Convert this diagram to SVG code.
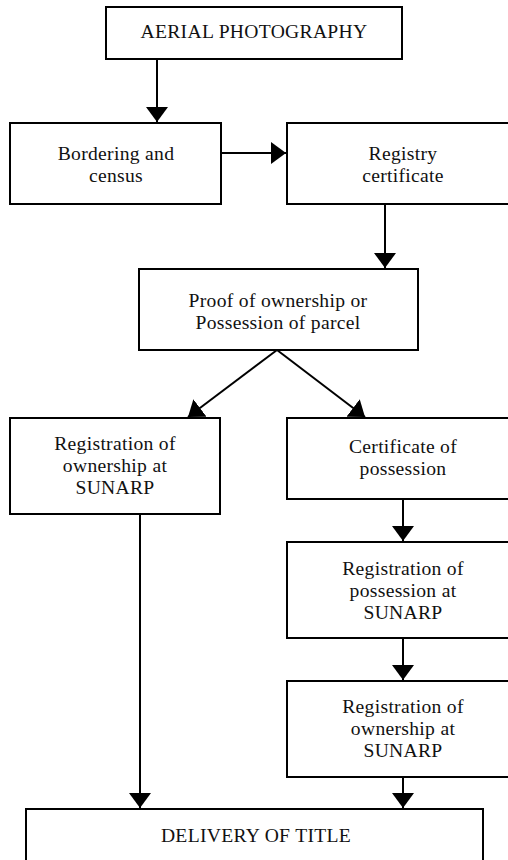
<svg xmlns="http://www.w3.org/2000/svg" width="508" height="860" viewBox="0 0 508 860">
  <style>
    .box { fill: #ffffff; stroke: #000000; stroke-width: 2; }
    .lbl { font-family: 'Liberation Serif', 'DejaVu Serif', serif; font-size: 19.6px; fill: #111111; text-anchor: middle; letter-spacing: 0.3px; }
    .conn { stroke: #000000; stroke-width: 2; fill: none; marker-end: url(#arrow); }
  </style>
  <defs>
    <marker id="arrow" viewBox="0 0 15 22" refX="15" refY="11" markerWidth="15" markerHeight="22" markerUnits="userSpaceOnUse" orient="auto">
      <path d="M0,0 L15,11 L0,22 z" fill="#000000"/>
    </marker>
  </defs>
  <rect width="508" height="860" fill="#ffffff"/>

  <g id="connectors">
    <line class="conn" x1="157" y1="59" x2="157" y2="122"/>
    <line class="conn" x1="221" y1="153" x2="286" y2="153"/>
    <line class="conn" x1="385" y1="204" x2="385" y2="268"/>
    <line class="conn" x1="277" y1="350" x2="188" y2="417"/>
    <line class="conn" x1="277" y1="350" x2="365" y2="417"/>
    <line class="conn" x1="403" y1="499" x2="403" y2="541"/>
    <line class="conn" x1="403" y1="638" x2="403" y2="680"/>
    <line class="conn" x1="403" y1="777" x2="403" y2="808"/>
    <line class="conn" x1="140" y1="514" x2="140" y2="808"/>
  </g>

  <g id="aerial">
    <rect class="box" x="106" y="7" width="296" height="52"/>
    <text class="lbl" x="254" y="38">AERIAL PHOTOGRAPHY</text>
  </g>
  <g id="bordering">
    <rect class="box" x="10" y="123" width="211" height="81"/>
    <text class="lbl" x="116" y="160">Bordering and</text>
    <text class="lbl" x="116" y="182">census</text>
  </g>
  <g id="registry">
    <rect class="box" x="287" y="123" width="233" height="81"/>
    <text class="lbl" x="403" y="160">Registry</text>
    <text class="lbl" x="403" y="182">certificate</text>
  </g>
  <g id="proof">
    <rect class="box" x="139" y="269" width="279" height="81"/>
    <text class="lbl" x="278" y="307">Proof of ownership or</text>
    <text class="lbl" x="278" y="329">Possession of parcel</text>
  </g>
  <g id="reg-ownership-left">
    <rect class="box" x="10" y="418" width="210" height="96"/>
    <text class="lbl" x="115" y="450">Registration of</text>
    <text class="lbl" x="115" y="472">ownership at</text>
    <text class="lbl" x="115" y="494">SUNARP</text>
  </g>
  <g id="cert-possession">
    <rect class="box" x="287" y="418" width="233" height="81"/>
    <text class="lbl" x="403" y="453">Certificate of</text>
    <text class="lbl" x="403" y="475">possession</text>
  </g>
  <g id="reg-possession">
    <rect class="box" x="287" y="542" width="233" height="96"/>
    <text class="lbl" x="403" y="575">Registration of</text>
    <text class="lbl" x="403" y="597">possession at</text>
    <text class="lbl" x="403" y="619">SUNARP</text>
  </g>
  <g id="reg-ownership-right">
    <rect class="box" x="287" y="681" width="233" height="96"/>
    <text class="lbl" x="403" y="713">Registration of</text>
    <text class="lbl" x="403" y="735">ownership at</text>
    <text class="lbl" x="403" y="757">SUNARP</text>
  </g>
  <g id="delivery">
    <rect class="box" x="26" y="809" width="457" height="70"/>
    <text class="lbl" x="256" y="842">DELIVERY OF TITLE</text>
  </g>
</svg>
